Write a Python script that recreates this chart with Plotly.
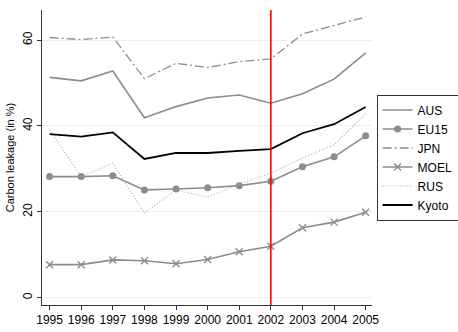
import plotly.graph_objects as go

years = [1995, 1996, 1997, 1998, 1999, 2000, 2001, 2002, 2003, 2004, 2005]

aus   = [51.3, 50.5, 52.8, 41.9, 44.5, 46.5, 47.2, 45.3, 47.5, 50.9, 57.0]
eu15  = [28.2, 28.2, 28.4, 25.1, 25.3, 25.6, 26.1, 27.1, 30.5, 32.8, 37.7]
jpn   = [60.6, 60.1, 60.7, 51.0, 54.6, 53.6, 55.0, 55.6, 61.4, 63.4, 65.4]
moel  = [7.7, 7.7, 8.8, 8.6, 7.9, 8.9, 10.7, 12.0, 16.3, 17.6, 19.9]
rus   = [39.1, 28.2, 31.3, 19.7, 25.1, 23.4, 26.5, 29.0, 32.5, 35.6, 42.9]
kyoto = [38.1, 37.5, 38.5, 32.3, 33.7, 33.7, 34.2, 34.6, 38.3, 40.4, 44.4]

kyoto_year = 2002
y_ticks = [0, 20, 40, 60]

GRAY = "#8c8c8c"
FONT = "Liberation Sans, Arial, sans-serif"

fig = go.Figure()

fig.add_trace(go.Scatter(x=years, y=aus, name="AUS", mode="lines",
                         line=dict(color=GRAY, width=1.6)))
fig.add_trace(go.Scatter(x=years, y=eu15, name="EU15", mode="lines+markers",
                         line=dict(color=GRAY, width=1.6),
                         marker=dict(symbol="circle", size=7, color=GRAY)))
fig.add_trace(go.Scatter(x=years, y=jpn, name="JPN", mode="lines",
                         line=dict(color=GRAY, width=1.3, dash="9px,3px,2px,3px")))
fig.add_trace(go.Scatter(x=years, y=moel, name="MOEL", mode="lines+markers",
                         line=dict(color=GRAY, width=1.6),
                         marker=dict(symbol="x-thin", size=7,
                                     line=dict(color=GRAY, width=1.4))))
fig.add_trace(go.Scatter(x=years, y=rus, name="RUS", mode="lines",
                         line=dict(color="#a6a6a6", width=1.1, dash="1px,2px")))
fig.add_trace(go.Scatter(x=years, y=kyoto, name="Kyoto", mode="lines",
                         line=dict(color="black", width=1.8)))

# Kyoto protocol year marker
fig.add_shape(type="line", xref="x", yref="paper",
              x0=kyoto_year, x1=kyoto_year, y0=0, y1=1,
              line=dict(color="#ff0000", width=1.6))

fig.update_layout(
    width=458, height=332,
    margin=dict(l=42, r=86, t=10, b=27, autoexpand=False),
    paper_bgcolor="white", plot_bgcolor="white",
    font=dict(family=FONT, size=12, color="black"),
    showlegend=True,
    legend=dict(x=1.014, y=0.5, xanchor="left", yanchor="middle",
                bordercolor="#333333", borderwidth=1, bgcolor="white",
                font=dict(size=12), tracegroupgap=0, itemwidth=30),
)

fig.update_xaxes(
    range=[1994.76, 2005.2], tickmode="array", tickvals=years,
    ticks="outside", ticklen=4, tickcolor="#333333",
    showline=True, linecolor="#333333", linewidth=1,
    showgrid=False, zeroline=False, tickfont=dict(size=12), automargin=False,
)
fig.update_yaxes(
    range=[-1.7, 67.0], tickmode="array", tickvals=y_ticks,
    ticks="outside", ticklen=4, tickcolor="#333333", tickangle=-90,
    showline=True, linecolor="#333333", linewidth=1,
    showgrid=True, gridcolor="#e8f0f1", gridwidth=1, zeroline=False,
    tickfont=dict(size=12), automargin=False,
    title=dict(text="Carbon leakage (in %)", font=dict(size=11), standoff=4),
)

fig.write_html("out.html")
